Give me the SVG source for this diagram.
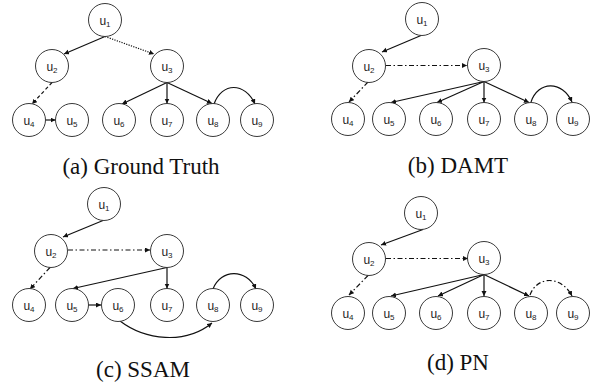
<svg xmlns="http://www.w3.org/2000/svg" width="592" height="385" viewBox="0 0 592 385">
<defs>
<style>
.n circle{fill:#fff;stroke:#222;stroke-width:0.9}
.n text{font-family:"Liberation Sans",Arial,sans-serif;font-size:12px;fill:#222;text-anchor:middle}
.n tspan{font-size:8px}
.e path{fill:none;stroke:#111;stroke-width:1.2;marker-end:url(#ah)}
.dot{stroke-dasharray:1.2 1.3}
.dash{stroke-dasharray:3.5 2.5}
.dd{stroke-dasharray:5 2.5 1.5 2.5}
.cap{font-size:23px;fill:#111;text-anchor:middle}
</style>
<marker id="ah" markerUnits="userSpaceOnUse" markerWidth="6" markerHeight="6" refX="5" refY="2.5" orient="auto">
<path d="M0,0 L5,2.5 L0,5 z" fill="#111"/>
</marker>
</defs>
<rect width="592" height="385" fill="#fff"/>

<g id="connectors" class="e">
<!-- (a) -->
<path d="M105,36.5 L64,54"/>
<path class="dot" d="M105,36.5 L154,54"/>
<path class="dash" d="M52,82.5 L32,104"/>
<path d="M45.5,120 L55.5,120"/>
<path d="M167,82.5 L122,104"/>
<path d="M167,82.5 L167,103.5"/>
<path d="M167,82.5 L212,103.5"/>
<path d="M214,104 C222,82 245,82 255,104"/>
<!-- (b) -->
<path d="M421,35.5 L382,52"/>
<path class="dd" d="M386,65.5 L467,65.5"/>
<path class="dd" d="M368,82 L349,102"/>
<path d="M484,81.5 L391,102.5"/>
<path d="M484,81.5 L437,102.5"/>
<path d="M484,81.5 L484,102.5"/>
<path d="M484,81.5 L529,102.5"/>
<path d="M531,102 C538,81 562,80 572,102"/>
<!-- (c) -->
<path d="M103,220.5 L63,237"/>
<path class="dd" d="M68,250 L150,250"/>
<path class="dd" d="M50,267.5 L30,289"/>
<path d="M167,267.5 L73,288.5"/>
<path d="M167,267.5 L167,288.5"/>
<path d="M88.5,305 L101,305"/>
<path d="M120,321 C145,340 185,345 212,323"/>
<path d="M213,289 C221,269 246,268 256,289"/>
<!-- (d) -->
<path d="M423,229.5 L381,245"/>
<path class="dd" d="M386,258.5 L468,258.5"/>
<path class="dd" d="M368,275.5 L349,295"/>
<path d="M484,274.5 L391,296"/>
<path d="M484,274.5 L438,296"/>
<path d="M484,274.5 L484,296"/>
<path d="M484,274.5 L529,296"/>
<path class="dd" d="M530,295 C537,276 561,275 572,296"/>
</g>

<!-- (a) nodes -->
<g id="a-u1" class="n"><circle cx="105" cy="20" r="16.5"/><text x="105" y="24.5">u<tspan dy="2">1</tspan></text></g>
<g id="a-u2" class="n"><circle cx="52" cy="66" r="16.5"/><text x="52" y="70.5">u<tspan dy="2">2</tspan></text></g>
<g id="a-u3" class="n"><circle cx="167" cy="66" r="16.5"/><text x="167" y="70.5">u<tspan dy="2">3</tspan></text></g>
<g id="a-u4" class="n"><circle cx="29" cy="120" r="16.5"/><text x="29" y="124.5">u<tspan dy="2">4</tspan></text></g>
<g id="a-u5" class="n"><circle cx="72" cy="120" r="16.5"/><text x="72" y="124.5">u<tspan dy="2">5</tspan></text></g>
<g id="a-u6" class="n"><circle cx="119" cy="120" r="16.5"/><text x="119" y="124.5">u<tspan dy="2">6</tspan></text></g>
<g id="a-u7" class="n"><circle cx="167" cy="120" r="16.5"/><text x="167" y="124.5">u<tspan dy="2">7</tspan></text></g>
<g id="a-u8" class="n"><circle cx="213" cy="120" r="16.5"/><text x="213" y="124.5">u<tspan dy="2">8</tspan></text></g>
<g id="a-u9" class="n"><circle cx="257" cy="120" r="16.5"/><text x="257" y="124.5">u<tspan dy="2">9</tspan></text></g>

<!-- (b) nodes -->
<g id="b-u1" class="n"><circle cx="422" cy="19" r="16.5"/><text x="422" y="23.5">u<tspan dy="2">1</tspan></text></g>
<g id="b-u2" class="n"><circle cx="369" cy="66" r="16.5"/><text x="369" y="70.5">u<tspan dy="2">2</tspan></text></g>
<g id="b-u3" class="n"><circle cx="484" cy="65" r="16.5"/><text x="484" y="69.5">u<tspan dy="2">3</tspan></text></g>
<g id="b-u4" class="n"><circle cx="348" cy="119" r="16.5"/><text x="348" y="123.5">u<tspan dy="2">4</tspan></text></g>
<g id="b-u5" class="n"><circle cx="389" cy="119" r="16.5"/><text x="389" y="123.5">u<tspan dy="2">5</tspan></text></g>
<g id="b-u6" class="n"><circle cx="436" cy="119" r="16.5"/><text x="436" y="123.5">u<tspan dy="2">6</tspan></text></g>
<g id="b-u7" class="n"><circle cx="484" cy="119" r="16.5"/><text x="484" y="123.5">u<tspan dy="2">7</tspan></text></g>
<g id="b-u8" class="n"><circle cx="531" cy="119" r="16.5"/><text x="531" y="123.5">u<tspan dy="2">8</tspan></text></g>
<g id="b-u9" class="n"><circle cx="573" cy="119" r="16.5"/><text x="573" y="123.5">u<tspan dy="2">9</tspan></text></g>

<!-- (c) nodes -->
<g id="c-u1" class="n"><circle cx="104" cy="204" r="16.5"/><text x="104" y="208.5">u<tspan dy="2">1</tspan></text></g>
<g id="c-u2" class="n"><circle cx="51" cy="251" r="16.5"/><text x="51" y="255.5">u<tspan dy="2">2</tspan></text></g>
<g id="c-u3" class="n"><circle cx="167" cy="251" r="16.5"/><text x="167" y="255.5">u<tspan dy="2">3</tspan></text></g>
<g id="c-u4" class="n"><circle cx="29" cy="305" r="16.5"/><text x="29" y="309.5">u<tspan dy="2">4</tspan></text></g>
<g id="c-u5" class="n"><circle cx="72" cy="305" r="16.5"/><text x="72" y="309.5">u<tspan dy="2">5</tspan></text></g>
<g id="c-u6" class="n"><circle cx="118" cy="305" r="16.5"/><text x="118" y="309.5">u<tspan dy="2">6</tspan></text></g>
<g id="c-u7" class="n"><circle cx="167" cy="305" r="16.5"/><text x="167" y="309.5">u<tspan dy="2">7</tspan></text></g>
<g id="c-u8" class="n"><circle cx="213" cy="305" r="16.5"/><text x="213" y="309.5">u<tspan dy="2">8</tspan></text></g>
<g id="c-u9" class="n"><circle cx="257" cy="305" r="16.5"/><text x="257" y="309.5">u<tspan dy="2">9</tspan></text></g>

<!-- (d) nodes -->
<g id="d-u1" class="n"><circle cx="421" cy="213" r="16.5"/><text x="421" y="217.5">u<tspan dy="2">1</tspan></text></g>
<g id="d-u2" class="n"><circle cx="369" cy="259" r="16.5"/><text x="369" y="263.5">u<tspan dy="2">2</tspan></text></g>
<g id="d-u3" class="n"><circle cx="484" cy="258" r="16.5"/><text x="484" y="262.5">u<tspan dy="2">3</tspan></text></g>
<g id="d-u4" class="n"><circle cx="348" cy="313" r="16.5"/><text x="348" y="317.5">u<tspan dy="2">4</tspan></text></g>
<g id="d-u5" class="n"><circle cx="389" cy="313" r="16.5"/><text x="389" y="317.5">u<tspan dy="2">5</tspan></text></g>
<g id="d-u6" class="n"><circle cx="436" cy="313" r="16.5"/><text x="436" y="317.5">u<tspan dy="2">6</tspan></text></g>
<g id="d-u7" class="n"><circle cx="484" cy="313" r="16.5"/><text x="484" y="317.5">u<tspan dy="2">7</tspan></text></g>
<g id="d-u8" class="n"><circle cx="531" cy="313" r="16.5"/><text x="531" y="317.5">u<tspan dy="2">8</tspan></text></g>
<g id="d-u9" class="n"><circle cx="573" cy="313" r="16.5"/><text x="573" y="317.5">u<tspan dy="2">9</tspan></text></g>

<g id="captions" font-family="'Liberation Serif', 'Times New Roman', serif">
<text class="cap" x="141" y="174">(a) Ground Truth</text>
<text class="cap" x="458" y="173">(b) DAMT</text>
<text class="cap" x="143" y="377">(c) SSAM</text>
<text class="cap" x="458" y="370">(d) PN</text>
</g>
</svg>
